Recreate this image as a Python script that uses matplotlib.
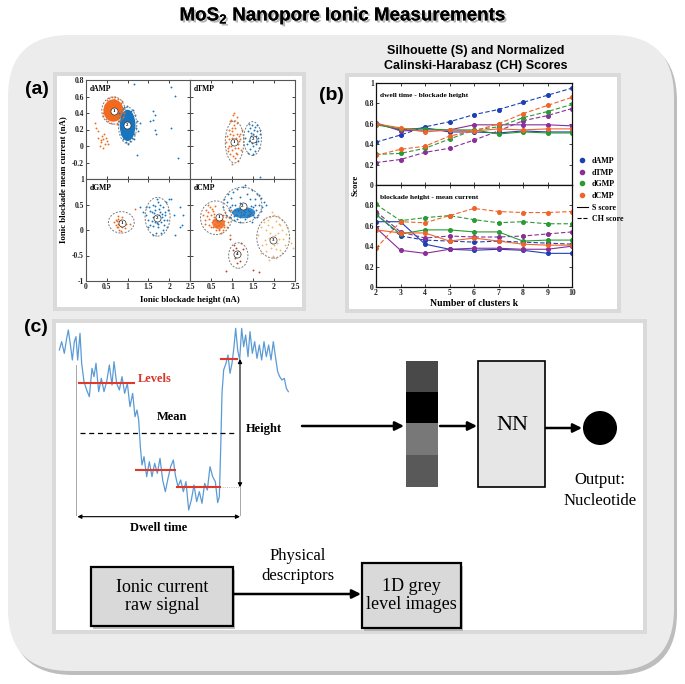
import matplotlib
matplotlib.use('Agg')
import matplotlib.pyplot as plt
from matplotlib.patches import FancyBboxPatch, Rectangle, Ellipse, Circle
from matplotlib.lines import Line2D
import matplotlib.patheffects as pe

W, H = 685, 684
SERIF = ['Liberation Serif', 'DejaVu Serif']
SANS = ['Liberation Sans', 'DejaVu Sans']
plt.rcParams['font.family'] = SERIF
plt.rcParams['font.weight'] = 'bold'
plt.rcParams['axes.labelweight'] = 'bold'

# ---------------- data: panel (a) scatter clusters ----------------
ORANGE = '#f26a1f'
BLUE = '#1874bd'
LORANGE = '#f7b46a'
DRED = '#b8432a'

dAMP_core_orange = (0.66, 0.43, 0.48, 0.27)   # cx, cy, w, h
dAMP_core_blue = (1.00, 0.25, 0.38, 0.38)
dAMP_o_x = [0.42,0.45,0.50,0.55,0.62,0.70,0.78,0.85,0.90,0.88,0.80,0.48,0.44,0.52,0.60,0.75,0.82,0.58,0.68,0.92,0.40,0.86,
            0.22,0.30,0.35,0.40,0.45,0.42,0.38,0.50,0.28,0.47,0.33,0.44,0.36,0.52,0.25]
dAMP_o_y = [0.40,0.50,0.56,0.58,0.60,0.59,0.57,0.52,0.45,0.35,0.30,0.33,0.45,0.30,0.28,0.27,0.32,0.55,0.57,0.40,0.36,0.55,
            0.28,0.10,0.05,0.08,0.02,-0.02,0.12,0.06,0.18,0.10,0.00,0.15,0.07,0.03,0.22]
dAMP_b_x = [0.80,0.82,0.85,0.90,0.95,1.05,1.10,1.15,1.20,1.22,1.18,1.12,0.88,0.84,1.00,1.08,0.92,1.25,1.16,0.98,
            1.15,2.05,2.15,1.62,1.67,1.55,1.60,1.67,1.68,2.05,1.22,2.20,1.30]
dAMP_b_y = [0.40,0.30,0.15,0.08,0.05,0.06,0.10,0.15,0.22,0.30,0.38,0.44,0.45,0.22,0.02,0.42,0.47,0.18,0.08,0.48,
            0.75,0.71,0.61,0.42,0.37,0.30,0.31,0.19,0.14,0.22,-0.11,-0.14,0.28]

dTMP_o_x = [0.85,0.88,0.90,0.92,0.93,0.95,0.96,0.97,0.98,1.00,1.00,1.01,1.02,1.03,1.04,1.05,1.05,1.06,1.07,1.08,1.09,1.10,1.10,
            1.11,1.12,1.13,1.14,1.15,1.16,1.17,1.18,1.20,1.22,1.24,0.94,0.99,1.03,1.08,1.12,1.00,0.96,1.06,1.15,0.91,1.02]
dTMP_o_y = [0.05,0.12,-0.02,0.20,0.08,-0.10,0.15,0.00,0.32,0.10,-0.05,0.18,0.04,-0.12,0.25,0.30,0.40,0.02,-0.15,0.22,0.07,0.10,
            -0.08,0.14,0.28,0.35,-0.02,-0.18,0.12,0.06,0.15,0.09,-0.05,0.20,0.00,-0.22,0.38,0.05,-0.10,0.22,0.30,-0.03,0.02,-0.06,0.13]
dTMP_b_x = [1.32,1.35,1.38,1.40,1.42,1.44,1.45,1.47,1.48,1.50,1.50,1.52,1.53,1.55,1.56,1.58,1.60,1.62,1.64,1.66,1.40,1.46,
            1.54,1.60,1.37,1.57,1.49,1.43,1.63,1.51,1.66,1.66]
dTMP_b_y = [0.10,0.02,0.18,0.06,0.22,-0.04,0.12,0.26,0.04,0.15,0.00,0.08,0.20,-0.06,0.12,0.05,0.18,0.10,-0.02,0.14,0.27,0.16,
            0.23,0.25,-0.08,0.02,0.11,0.07,0.06,-0.10,0.20,-0.37]

dGMP_o_x = [0.68,0.72,0.75,0.76,0.78,0.80,0.80,0.82,0.83,0.85,0.86,0.88,0.90,0.92,0.95,0.78,0.74,0.84,0.87,0.71,1.05,0.80,0.77,0.93,0.82,1.18]
dGMP_o_y = [0.15,0.10,0.18,0.05,0.22,0.12,0.00,0.16,0.08,0.20,0.05,0.14,0.10,0.18,0.12,0.28,0.06,-0.02,0.25,0.20,0.12,0.18,0.12,0.04,0.10,0.42]
dGMP_b_x = [1.45,1.50,1.52,1.55,1.58,1.60,1.62,1.65,1.67,1.70,1.72,1.74,1.75,1.78,1.80,1.82,1.85,1.88,1.90,1.92,1.95,1.98,2.00,
            1.60,1.70,1.80,1.65,1.75,1.85,1.55,1.62,1.72,1.78,1.68,1.90,1.58,1.83,1.73,1.66,1.95,1.50,1.76,1.87,1.64,1.70,
            2.25,2.32,2.25,2.15,1.30,1.38,1.45,2.05,2.12,2.30]
dGMP_b_y = [0.30,0.20,0.45,0.10,0.35,0.25,0.50,0.15,0.40,0.30,0.05,0.55,0.20,0.35,-0.05,0.25,0.45,0.10,0.30,0.55,0.20,0.40,0.60,
            -0.10,0.60,0.15,0.28,0.42,0.00,0.38,0.08,0.22,0.50,-0.05,0.35,0.18,0.32,0.12,0.48,0.05,0.05,0.30,0.20,0.34,0.14,
            0.45,0.30,0.05,-0.10,0.45,0.36,0.46,0.60,0.30,0.10]

dCMP_1_x = [0.30,0.35,0.38,0.40,0.42,0.45,0.48,0.50,0.52,0.55,0.55,0.58,0.60,0.60,0.62,0.64,0.65,0.66,0.68,0.70,0.70,0.72,0.74,
            0.75,0.76,0.78,0.80,0.82,0.85,0.88,0.90,0.95,0.45,0.50,0.55,0.60,0.65,0.70,0.75,0.80,0.62,0.68,0.72,0.58,0.52,0.78,
            0.66,0.74,0.84,0.93,0.98,0.36,0.44]
dCMP_1_y = [0.30,0.20,0.40,0.28,0.35,0.22,0.45,0.30,0.15,0.38,0.05,0.25,0.12,0.48,0.00,0.18,0.08,0.30,0.10,0.20,0.02,0.14,0.06,
            0.25,0.12,0.00,0.18,0.10,0.25,0.05,0.15,-0.10,0.10,0.05,0.20,0.20,0.15,0.10,0.18,0.05,0.08,0.00,0.20,0.32,0.42,0.30,
            0.15,-0.05,0.35,0.25,0.40,0.12,0.50]
dCMP_1_core = (0.68, 0.13, 0.30, 0.22)
dCMP_2_x = [0.78,0.82,0.85,0.88,0.90,0.92,0.95,0.98,1.00,1.02,1.05,1.08,1.10,1.12,1.15,1.18,1.20,1.22,1.25,1.28,1.30,1.32,1.35,
            1.38,1.40,1.42,1.45,1.48,1.50,1.52,1.55,1.58,1.60,1.62,1.65,1.68,1.70,1.72,1.75,1.80,1.00,1.10,1.20,1.30,1.40,1.50,
            1.05,1.15,1.25,1.35,1.45,1.12,1.22,1.32,1.42,1.18,1.28,1.38,0.95,1.55,1.60,1.08,1.48,1.30,1.20,1.65]
dCMP_2_y = [0.45,0.60,0.30,0.55,0.70,0.40,0.25,0.62,0.35,0.75,0.20,0.50,0.30,0.80,0.40,0.25,0.65,0.35,0.85,0.30,0.50,0.22,0.70,
            0.40,0.28,0.60,0.35,0.78,0.45,0.25,0.60,0.40,0.70,0.30,0.50,0.38,0.62,0.45,0.55,0.50,0.50,0.30,0.42,0.35,0.38,0.30,
            0.28,0.38,0.32,0.25,0.48,0.22,0.30,0.42,0.32,0.52,0.38,0.30,0.45,0.50,0.25,0.40,0.15,0.88,0.15,0.68]
dCMP_2_core = (1.28, 0.34, 0.55, 0.22)
dCMP_3_x = [1.62,1.68,1.72,1.75,1.78,1.80,1.82,1.85,1.88,1.90,1.92,1.95,1.98,2.00,2.02,2.05,2.08,2.10,2.12,2.15,2.18,2.20,2.22,
            2.25,2.30,2.35,1.70,1.80,1.90,2.00,2.10,2.20,1.85,1.95,2.05,2.15,1.75,2.28,2.40,2.45,1.95,2.05,1.88,2.12]
dCMP_3_y = [-0.10,0.05,-0.30,0.15,-0.20,0.00,-0.42,0.10,-0.15,0.25,-0.35,0.05,-0.50,0.30,-0.10,0.18,-0.25,-0.05,0.12,-0.40,0.00,
            0.20,-0.18,-0.30,0.05,-0.15,-0.45,-0.28,-0.05,-0.30,0.28,-0.45,0.20,-0.25,-0.55,0.10,0.22,-0.08,-0.25,-0.35,0.35,-0.38,-0.58,-0.18]
dCMP_4_x = [1.02,1.08,1.10,1.12,1.15,1.18,1.20,1.05,1.13,1.25,0.85,1.50,1.65,0.95,1.22]
dCMP_4_y = [-0.40,-0.55,-0.35,-0.50,-0.42,-0.60,-0.48,-0.30,-0.65,-0.38,-0.80,-0.78,-0.82,-0.18,-0.25]

# dashed cluster ellipses (cx, cy, w, h) and label positions
ell_dAMP = [(0.66, 0.43, 0.56, 0.33), (1.00, 0.25, 0.44, 0.44)]
lab_dAMP = [(0.68, 0.42), (0.98, 0.26)]
ell_dTMP = [(1.06, 0.05, 0.44, 0.51), (1.49, 0.09, 0.42, 0.41)]
lab_dTMP = [(1.04, 0.05), (1.51, 0.09)]
ell_dGMP = [(0.85, 0.15, 0.62, 0.42), (1.72, 0.26, 0.60, 0.76)]
lab_dGMP = [(0.86, 0.13), (1.71, 0.23)]
ell_dCMP = [(0.62, 0.24, 0.74, 0.66), (1.25, 0.49, 0.92, 0.70), (1.98, -0.14, 0.78, 0.82), (1.15, -0.50, 0.46, 0.50)]
lab_dCMP = [(0.68, 0.26), (1.25, 0.48), (1.98, -0.20), (1.13, -0.48)]

# ---------------- data: panel (b) scores ----------------
k_clusters = [2, 3, 4, 5, 6, 7, 8, 9, 10]
nucleotides = ['dAMP', 'dTMP', 'dGMP', 'dCMP']
nuc_colors = ['#1c3fb5', '#8a2e98', '#2a9a35', '#f0642a']
top_S = [[0.60, 0.54, 0.56, 0.52, 0.52, 0.51, 0.53, 0.52, 0.52],
         [0.61, 0.53, 0.54, 0.54, 0.59, 0.59, 0.59, 0.59, 0.58],
         [0.59, 0.55, 0.55, 0.54, 0.54, 0.50, 0.52, 0.51, 0.51],
         [0.60, 0.56, 0.52, 0.54, 0.53, 0.55, 0.54, 0.55, 0.55]]
top_CH = [[0.42, 0.49, 0.57, 0.62, 0.69, 0.74, 0.81, 0.88, 0.95],
          [0.22, 0.25, 0.32, 0.36, 0.44, 0.53, 0.63, 0.68, 0.75],
          [0.30, 0.31, 0.36, 0.45, 0.54, 0.57, 0.66, 0.72, 0.79],
          [0.29, 0.35, 0.38, 0.48, 0.53, 0.60, 0.70, 0.78, 0.86]]
bot_S = [[0.64, 0.64, 0.42, 0.37, 0.36, 0.37, 0.36, 0.33, 0.33],
         [0.58, 0.36, 0.33, 0.37, 0.38, 0.38, 0.37, 0.37, 0.40],
         [0.71, 0.52, 0.56, 0.56, 0.54, 0.54, 0.45, 0.46, 0.46],
         [0.56, 0.53, 0.53, 0.45, 0.48, 0.45, 0.42, 0.41, 0.41]]
bot_CH = [[0.72, 0.50, 0.46, 0.45, 0.44, 0.45, 0.44, 0.43, 0.42],
          [0.74, 0.54, 0.48, 0.50, 0.49, 0.49, 0.50, 0.52, 0.54],
          [0.81, 0.65, 0.68, 0.70, 0.66, 0.63, 0.64, 0.62, 0.62],
          [0.38, 0.64, 0.63, 0.70, 0.77, 0.74, 0.73, 0.73, 0.74]]

# ---------------- data: panel (c) schematic trace ----------------
trace_t = [118,125,133,140,145,152,157,163,168,173,180,185,
           192,200,208,216,222,228,236,244,252,260,268,276,282,290,298,306,314,322,330,338,345,351,356,
           361,366,
           372,380,388,396,404,412,420,428,436,444,452,460,466,
           474,482,490,498,506,514,522,530,538,546,554,562,570,578,586,593,598,
           602,606,611,618,624,630,636,642,647,653,659,665,671,677,684,690,697,704,711,718,725,732,739,746,
           753,760,767,773,779,786,793,799,805]
trace_depth = [120,95,130,85,60,110,150,95,80,150,70,160,
               215,240,260,175,200,160,245,205,245,215,165,225,155,220,240,200,250,220,290,250,320,300,330,
               410,465,
               440,500,455,500,460,490,445,510,545,505,470,450,495,
               530,510,545,515,600,570,525,575,545,580,520,540,470,500,515,578,560,
               420,250,180,160,135,190,160,110,55,120,150,55,110,75,140,65,130,95,145,105,150,95,140,105,
               150,95,145,185,200,210,205,235,245]
level_start = [178, 348, 470, 603]
level_end = [342, 465, 600, 650]
level_depth = [220, 480, 532, 147]
mean_depth = 370
grey_levels = [0.29, 0.0, 0.47, 0.35]

# ---------------- figure ----------------
fig = plt.figure(figsize=(W / 100, H / 100), dpi=100)


def px_rect(x0, y0, x1, y1):
    return [x0 / W, 1 - y1 / H, (x1 - x0) / W, (y1 - y0) / H]


bg = fig.add_axes([0, 0, 1, 1], zorder=0)
bg.set_xlim(0, W)
bg.set_ylim(H, 0)
bg.axis('off')

# big rounded background
bg.add_patch(FancyBboxPatch((11, 39), 666, 636, boxstyle='round,pad=0,rounding_size=62',
                            fc='#bdbdbd', ec='none'))
bg.add_patch(FancyBboxPatch((8, 35), 666, 636, boxstyle='round,pad=0,rounding_size=62',
                            fc='#ececec', ec='none'))
# panel frames
for (x0, y0, x1, y1) in [(53, 72, 306, 311), (345, 73, 621, 313), (52, 319, 647, 634)]:
    bg.add_patch(Rectangle((x0, y0), x1 - x0, y1 - y0, fc='#dadada', ec='none'))
    bg.add_patch(Rectangle((x0 + 4, y0 + 4), x1 - x0 - 8, y1 - y0 - 8, fc='white', ec='none'))

shadow = [pe.withSimplePatchShadow(offset=(1.5, -1.5), shadow_rgbFace='#888888', alpha=0.6), pe.Normal()]
bg.text(343, 16, r'MoS$_\mathregular{2}$ Nanopore Ionic Measurements', family=SANS, weight='bold',
        fontsize=13.5, ha='center', va='center', path_effects=shadow)
bg.text(476, 51, 'Silhouette (S) and Normalized', family=SANS, weight='bold', fontsize=9,
        ha='center', va='center')
bg.text(476, 66, 'Calinski-Harabasz (CH) Scores', family=SANS, weight='bold', fontsize=9,
        ha='center', va='center')
for lbl, (x, y) in [('(a)', (37, 90)), ('(b)', (331, 95)), ('(c)', (36, 327))]:
    bg.text(x, y, lbl, family=SANS, weight='bold', fontsize=14, ha='center', va='center')

# ---------------- panel (a) ----------------
def style(ax, lw=0.8):
    ax.tick_params(direction='in', length=2, width=0.6, top=True, right=True,
                   labelsize=5.5, pad=1.5, colors='#222222')
    for s in ax.spines.values():
        s.set_linewidth(lw)
        s.set_color('#555555')


def ellipses(ax, ells, labs):
    for (cx, cy, w, h) in ells:
        ax.add_patch(Ellipse((cx, cy), w, h, fill=False, ec='#7a7a7a', lw=0.7, ls=(0, (2, 1.5)), zorder=4))
    for i, (x, y) in enumerate(labs):
        ax.scatter([x], [y], s=26, fc='white', ec='#333333', lw=0.5, zorder=5)
        ax.text(x, y, str(i + 1), fontsize=3.5, ha='center', va='center', zorder=6)


axTL = fig.add_axes(px_rect(86, 80, 190, 179))
axTR = fig.add_axes(px_rect(190, 80, 295, 179))
axBL = fig.add_axes(px_rect(86, 179, 190, 281))
axBR = fig.add_axes(px_rect(190, 179, 295, 281))
for ax in (axTL, axTR, axBL, axBR):
    style(ax)
    ax.set_xlim(0, 2.5)
    ax.set_xticks([0, 0.5, 1, 1.5, 2, 2.5])
for ax in (axTL, axTR):
    ax.set_ylim(-0.4, 0.8)
    ax.set_yticks([-0.2, 0, 0.2, 0.4, 0.6, 0.8])
    ax.set_xticklabels([])
for ax in (axBL, axBR):
    ax.set_ylim(-1, 1)
    ax.set_yticks([-1, -0.5, 0, 0.5, 1])
axTL.set_yticklabels(['-0.2', '0', '0.2', '0.4', '0.6', '0.8'])
axBL.set_yticklabels(['-1', '-0.5', '0', '0.5', '1'])
axTR.set_yticklabels([])
axBR.set_yticklabels([])
axBL.set_xticklabels(['0', '0.5', '1', '1.5', '2', '2.5'])
axBR.set_xticklabels(['', '0.5', '1', '1.5', '2', '2.5'])
for ax, name in [(axTL, 'dAMP'), (axTR, 'dTMP'), (axBL, 'dGMP'), (axBR, 'dCMP')]:
    ax.text(0.04, 0.95, name, transform=ax.transAxes, fontsize=5.5, ha='left', va='top')

ms = 1.8
# dAMP
for (cx, cy, w, h), col in [(dAMP_core_orange, ORANGE), (dAMP_core_blue, BLUE)]:
    axTL.add_patch(Ellipse((cx, cy), w, h, fc=col, ec='none', zorder=2))
axTL.scatter(dAMP_o_x, dAMP_o_y, s=ms, c=ORANGE, lw=0, zorder=2)
axTL.scatter(dAMP_b_x, dAMP_b_y, s=ms, c=BLUE, lw=0, zorder=3)
ellipses(axTL, ell_dAMP, lab_dAMP)
# dTMP
axTR.scatter(dTMP_o_x, dTMP_o_y, s=ms, c=ORANGE, lw=0, zorder=2)
axTR.scatter(dTMP_b_x, dTMP_b_y, s=ms, c=BLUE, lw=0, zorder=2)
ellipses(axTR, ell_dTMP, lab_dTMP)
# dGMP
axBL.scatter(dGMP_o_x, dGMP_o_y, s=ms, c=ORANGE, lw=0, zorder=2)
axBL.scatter(dGMP_b_x, dGMP_b_y, s=ms, c=BLUE, lw=0, zorder=2)
ellipses(axBL, ell_dGMP, lab_dGMP)
# dCMP
for (cx, cy, w, h), col in [(dCMP_1_core, ORANGE), (dCMP_2_core, BLUE)]:
    axBR.add_patch(Ellipse((cx, cy), w, h, fc=col, ec='none', alpha=0.85, zorder=2))
axBR.scatter(dCMP_1_x, dCMP_1_y, s=ms, c=ORANGE, lw=0, zorder=2)
axBR.scatter(dCMP_2_x, dCMP_2_y, s=ms, c=BLUE, lw=0, zorder=2)
axBR.scatter(dCMP_3_x, dCMP_3_y, s=ms, c=LORANGE, lw=0, zorder=2)
axBR.scatter(dCMP_4_x, dCMP_4_y, s=ms, c=DRED, lw=0, zorder=2)
ellipses(axBR, ell_dCMP, lab_dCMP)

bg.text(63, 180, 'Ionic blockade mean current (nA)', rotation=90, fontsize=6.3, ha='center', va='center')
bg.text(190, 300, 'Ionic blockade height (nA)', fontsize=6.3, ha='center', va='center')

# ---------------- panel (b) ----------------
axT = fig.add_axes(px_rect(376, 83, 572, 185))
axB = fig.add_axes(px_rect(376, 185, 572, 287))
for ax, S, CH, title in [(axT, top_S, top_CH, 'dwell time - blockade height'),
                         (axB, bot_S, bot_CH, 'blockade height - mean current')]:
    style(ax, lw=0.9)
    for s in ax.spines.values():
        s.set_color('#111111')
    for i in range(4):
        ax.plot(k_clusters, S[i], '-', marker='o', ms=2.6, lw=0.8, color=nuc_colors[i])
        ax.plot(k_clusters, CH[i], '--', dashes=(4, 2), marker='o', ms=2.6, lw=0.8, color=nuc_colors[i])
    ax.set_xlim(2, 10)
    ax.set_xticks(k_clusters)
    ax.set_ylim(0, 1)
    ax.text(0.02, 0.9, title, transform=ax.transAxes, fontsize=5.3, ha='left', va='top')
axT.set_yticks([0, 0.2, 0.4, 0.6, 0.8, 1])
axT.set_yticklabels(['0', '0.2', '0.4', '0.6', '0.8', '1'])
axT.set_xticklabels([])
axB.set_yticks([0, 0.2, 0.4, 0.6, 0.8])
axB.set_yticklabels(['0', '0.2', '0.4', '0.6', '0.8'])
axB.set_xticklabels([str(k) for k in k_clusters])
bg.text(356, 185, 'Score', rotation=90, fontsize=6.5, ha='center', va='center')
bg.text(474, 303, 'Number of clusters k', fontsize=7, ha='center', va='center')

handles = [Line2D([], [], ls='none', marker='o', ms=3, color=c) for c in nuc_colors]
handles += [Line2D([], [], ls='-', color='black', lw=0.8), Line2D([], [], ls='--', color='black', lw=0.8)]
fig.legend(handles, nucleotides + ['S score', 'CH score'], loc='upper left',
           bbox_to_anchor=(573 / W, 1 - 153 / H), frameon=False, fontsize=5.8,
           handlelength=1.3, labelspacing=0.45, handletextpad=0.5, borderpad=0)

# ---------------- panel (c) ----------------
axS = fig.add_axes(px_rect(20, 310, 340, 530))
axS.set_xlim(0, 960)
axS.set_ylim(660, 0)
axS.axis('off')
axS.plot(trace_t, trace_depth, color='#5b9bd5', lw=0.9, zorder=2)
for x0, x1, y in zip(level_start, level_end, level_depth):
    axS.plot([x0, x1], [y, y], color='#e0392a', lw=1.5, zorder=3)
axS.plot([180, 645], [mean_depth, mean_depth], color='black', lw=0.9, dashes=(4, 3))
axS.plot([168, 168], [165, 615], color='#9a9a9a', lw=0.6)
axS.plot([660, 660], [532, 615], color='#9a9a9a', lw=0.6)
axS.plot([600, 660], [532, 532], color='#aaaaaa', lw=0.6, ls=':')
axS.annotate('', xy=(660, 147), xytext=(660, 532),
             arrowprops=dict(arrowstyle='<|-|>', lw=0.8, color='black', mutation_scale=6, shrinkA=0, shrinkB=0))
axS.annotate('', xy=(172, 620), xytext=(660, 620),
             arrowprops=dict(arrowstyle='<|-|>', lw=0.8, color='black', mutation_scale=6, shrinkA=0, shrinkB=0))
axS.text(352, 208, 'Levels', color='#d8352a', fontsize=9, ha='left', va='center')
axS.text(456, 322, 'Mean', fontsize=9, ha='center', va='center')
axS.text(733, 357, 'Height', fontsize=9, ha='center', va='center')
axS.text(415, 655, 'Dwell time', fontsize=9, ha='center', va='center', clip_on=False)

arrow = dict(arrowstyle='-|>', lw=1.8, color='black', mutation_scale=13, shrinkA=0, shrinkB=0)
bg.annotate('', xy=(404, 426), xytext=(302, 426), arrowprops=arrow)
bg.annotate('', xy=(477, 426), xytext=(440, 426), arrowprops=arrow)
bg.annotate('', xy=(582, 428), xytext=(546, 428), arrowprops=arrow)

axG = fig.add_axes(px_rect(406, 361, 438, 487))
axG.imshow([[g] for g in grey_levels], cmap='gray', vmin=0, vmax=1, aspect='auto', interpolation='nearest')
axG.axis('off')

bg.add_patch(Rectangle((478, 361), 67, 126, fc='#e6e6e6', ec='black', lw=1.2))
bg.text(512, 426, 'NN', fontsize=16, weight='normal', ha='center', va='center')
bg.add_patch(Circle((600, 428), 17, fc='black', ec='none'))
bg.text(600, 480, 'Output:', fontsize=12, weight='normal', ha='center', va='center')
bg.text(600, 501, 'Nucleotide', fontsize=12, weight='normal', ha='center', va='center')

for (x0, y0, x1, y1), txt in [((91, 567, 233, 626), 'Ionic current\nraw signal'),
                              ((362, 563, 461, 628), '1D grey\nlevel images')]:
    bg.add_patch(Rectangle((x0 + 2.5, y0 + 2.5), x1 - x0, y1 - y0, fc='#9a9a9a', ec='none', alpha=0.6))
    bg.add_patch(Rectangle((x0, y0), x1 - x0, y1 - y0, fc='#d9d9d9', ec='black', lw=1.6))
    bg.text((x0 + x1) / 2, (y0 + y1) / 2, txt, fontsize=13, weight='normal', ha='center', va='center',
            linespacing=1.05)
bg.annotate('', xy=(361, 594), xytext=(234, 594), arrowprops=arrow)
bg.text(298, 556, 'Physical', fontsize=12, weight='normal', ha='center', va='center')
bg.text(298, 576, 'descriptors', fontsize=12, weight='normal', ha='center', va='center')

fig.savefig('out.png', dpi=100, facecolor='white')
